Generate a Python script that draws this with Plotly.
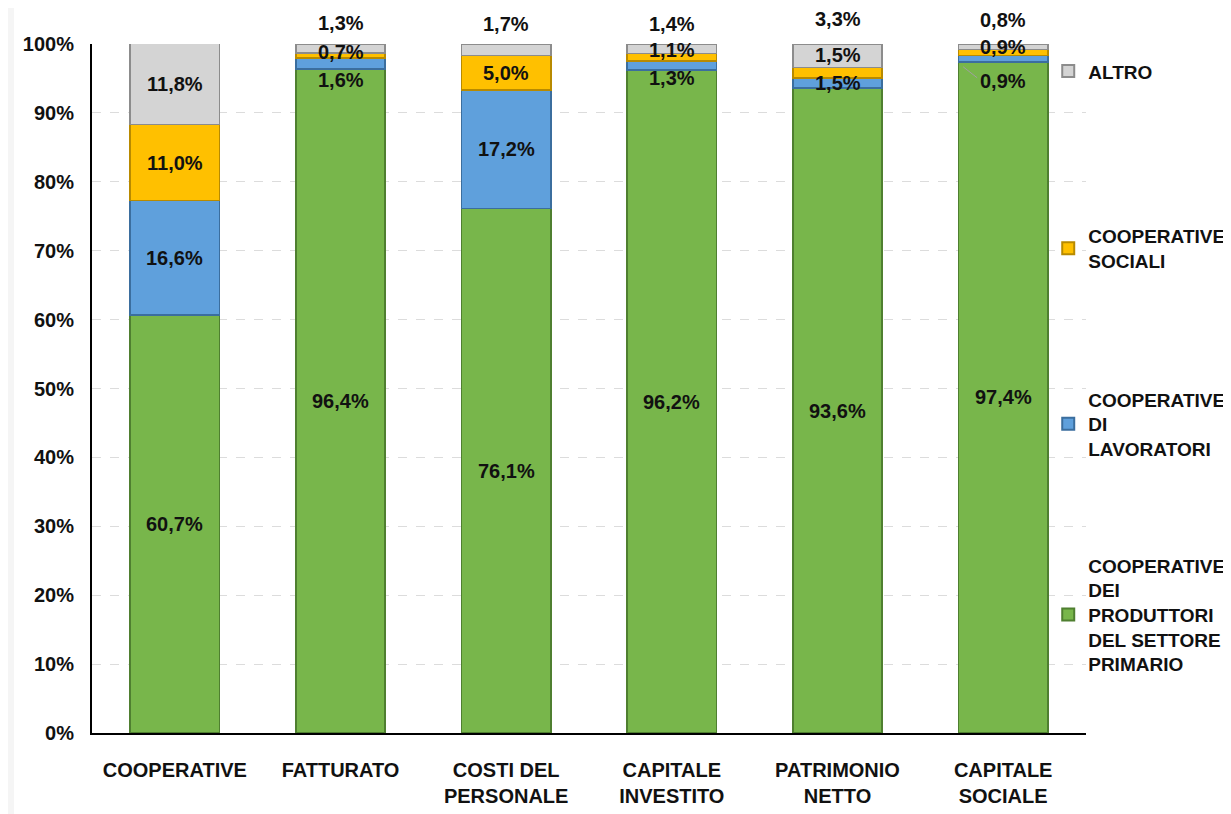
import plotly.graph_objects as go

categories = ["COOPERATIVE", "FATTURATO", "COSTI DEL<br>PERSONALE", "CAPITALE<br>INVESTITO",
              "PATRIMONIO<br>NETTO", "CAPITALE<br>SOCIALE"]
produttori = [60.7, 96.4, 76.1, 96.2, 93.6, 97.4]
lavoratori = [16.6, 1.6, 17.2, 1.3, 1.5, 0.9]
sociali = [11.0, 0.7, 5.0, 1.1, 1.5, 0.9]
altro = [11.8, 1.3, 1.7, 1.4, 3.3, 0.8]
y_ticks = [0, 10, 20, 30, 40, 50, 60, 70, 80, 90, 100]

series = [
    ("COOPERATIVE<br>DEI<br>PRODUTTORI<br>DEL SETTORE<br>PRIMARIO", produttori, "#78b64b", "#4f7f30"),
    ("COOPERATIVE<br>DI<br>LAVORATORI", lavoratori, "#5fa0dc", "#3b6e9e"),
    ("COOPERATIVE<br>SOCIALI", sociali, "#ffc000", "#b88a00"),
    ("ALTRO", altro, "#d4d4d4", "#8c8c8c"),
]

# label pixel offsets (style only) per series per category
label_shift = [
    [0, 0, 0, 0, 0, 0],
    [0, -17, 0, -12, 0, -22],
    [0, 3, 0, 7, 18, 6],
    [0, 25, 26, 25, 37, 27],
]

FONT = "Liberation Sans, Arial, sans-serif"

fig = go.Figure()
legend_ids = ["legend4", "legend3", "legend2", "legend"]
for i, (name, vals, col, edge) in enumerate(series):
    fig.add_trace(go.Bar(
        x=categories, y=vals, name=name,
        marker=dict(color=col, line=dict(color=edge, width=1.5)),
        width=0.54, legend=legend_ids[i], hoverinfo="x+y+name",
    ))

annotations = []
cum = [0.0] * len(categories)
for si, (name, vals, col, edge) in enumerate(series):
    for ci, v in enumerate(vals):
        mid = cum[ci] + v / 2
        annotations.append(dict(
            x=categories[ci], y=mid, xref="x", yref="y",
            text=f"{v:.1f}".replace(".", ",") + "%",
            showarrow=False, yshift=label_shift[si][ci],
            font=dict(family=FONT, size=20, color="#111111", weight="bold"),
        ))
        cum[ci] += v

# plot area in figure pixels (page body adds an 8px offset)
L, T, PW, PH = 84, 36, 994, 689
W, H = 1231, 814

last = len(categories) - 1
shapes = [
    dict(type="rect", xref="paper", yref="paper",
         x0=(6 - L) / PW, x1=(W - L) / PW,
         y0=(T + PH - H) / PH, y1=(T + PH) / PH,
         fillcolor="white", line=dict(width=0), layer="below"),
    # leader line for the small label of the last bar
    dict(type="line", xref="x", yref="y", xsizemode="pixel", ysizemode="pixel",
         xanchor=categories[last], yanchor=produttori[last] + lavoratori[last] / 2,
         x0=-40, x1=-26, y0=-8, y1=-19,
         line=dict(color="#a0a0a0", width=1), layer="above"),
]

legend_font = dict(family=FONT, size=19, color="#111111", weight="bold")
legend_common = dict(font=legend_font, bgcolor="rgba(0,0,0,0)", xanchor="left", yanchor="top",
                     itemsizing="constant", traceorder="normal", x=0.962)
fig.update_layout(
    width=W, height=H,
    margin=dict(l=L, r=W - L - PW, t=T, b=H - T - PH, autoexpand=False),
    paper_bgcolor="#f5f5f5", plot_bgcolor="white",
    barmode="stack", bargap=0.46,
    font=dict(family=FONT, size=20, color="#111111", weight="bold"),
    showlegend=True,
    legend=dict(y=0.988, **legend_common),
    legend2=dict(y=0.749, **legend_common),
    legend3=dict(y=0.512, **legend_common),
    legend4=dict(y=0.271, **legend_common),
    xaxis=dict(showline=True, linecolor="black", linewidth=2, ticks="", showgrid=False,
               tickfont=dict(family=FONT, size=20, color="#111111", weight="bold"),
               ticklabelstandoff=18, fixedrange=True),
    yaxis=dict(range=[0, 100], tickvals=y_ticks, ticktext=[f"{t}%" for t in y_ticks],
               showline=True, linecolor="black", linewidth=2, ticks="",
               showgrid=True, gridcolor="#dcdcdc", griddash="dash", gridwidth=1,
               tickfont=dict(family=FONT, size=20, color="#111111", weight="bold"),
               ticklabelstandoff=12, zeroline=False, fixedrange=True),
    annotations=annotations,
    shapes=shapes,
)
for t in fig.data:
    t.cliponaxis = False

fig.write_html("out.html")
